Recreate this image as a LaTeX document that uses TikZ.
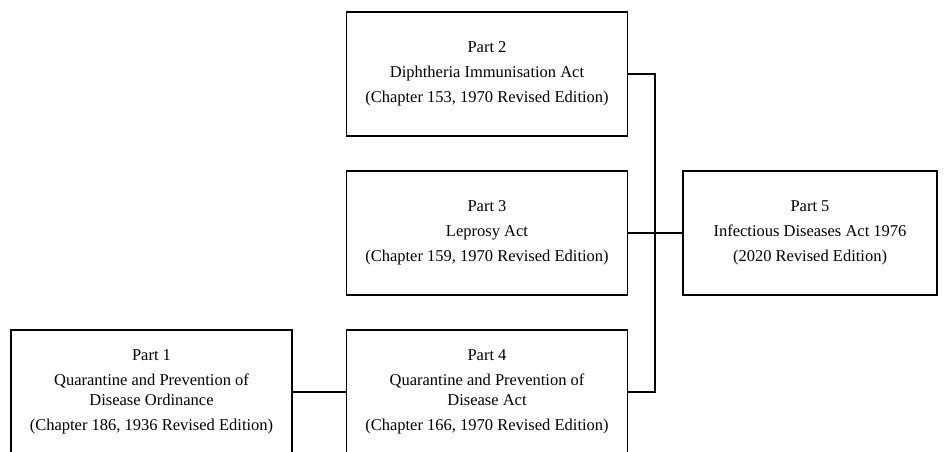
\documentclass[tikz,border=0pt]{standalone}
\usepackage{fontspec}
\setmainfont{Liberation Serif}
\newlength{\du}
\setlength{\du}{1pt}
\tikzset{
  partbox/.style={draw, line width=1.4\du, minimum width=281\du, minimum height=124\du,
    inner sep=0pt, align=center, font=\fontsize{16.5}{19.5}\selectfont},
  link/.style={line width=1.3\du}
}
\begin{document}
\begin{tikzpicture}[x=\du, y=-\du]
\clip (0,0) rectangle (951,451);
% parts of the act
\node[partbox] (part2) at (487,74) {Part 2\\[5.5pt]Diphtheria Immunisation Act\\[5.5pt](Chapter 153, 1970 Revised Edition)};
\node[partbox] (part3) at (487,233) {Part 3\\[5.5pt]Leprosy Act\\[5.5pt](Chapter 159, 1970 Revised Edition)};
\node[partbox] (part4) at (487,392) {Part 4\\[5.5pt]Quarantine and Prevention of\\Disease Act\\[5.5pt](Chapter 166, 1970 Revised Edition)};
\node[partbox] (part1) at (151.5,392) {Part 1\\[5.5pt]Quarantine and Prevention of\\Disease Ordinance\\[5.5pt](Chapter 186, 1936 Revised Edition)};
\node[partbox, minimum width=254\du] (part5) at (810,233) {Part 5\\[5.5pt]Infectious Diseases Act 1976\\[5.5pt](2020 Revised Edition)};
% links
\coordinate (bus) at (655,0);
\draw[link] (part2.east) -- (part2.east -| bus) -- (part4.east -| bus) -- (part4.east);
\draw[link] (part3.east) -- (part5.west);
\draw[link] (part1.east) -- (part4.west);
\end{tikzpicture}
\end{document}
